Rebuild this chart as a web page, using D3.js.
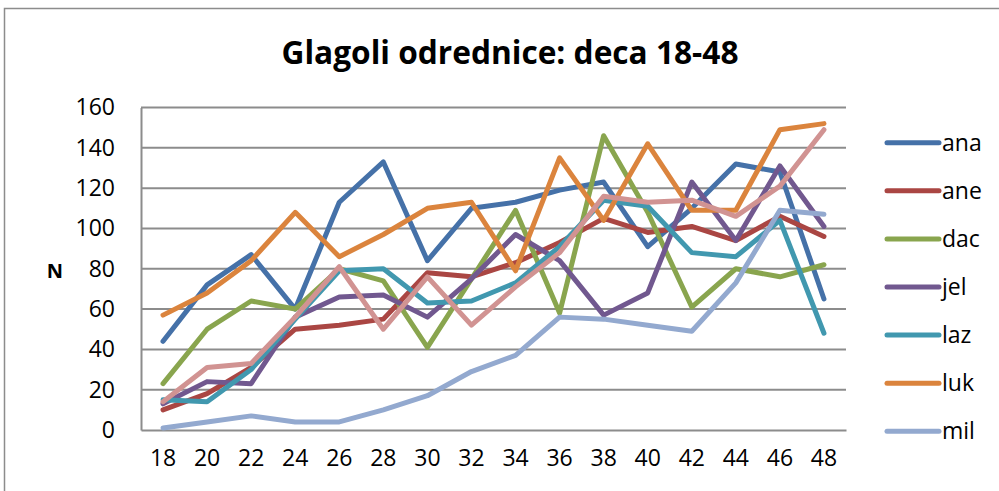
<!DOCTYPE html>
<html>
<head>
<meta charset="UTF-8">
<title>Glagoli odrednice</title>
<script src="https://cdn.jsdelivr.net/npm/d3@7"></script>
<style>
    body { margin: 0; background: #fff; }
    svg { display: block; font-family: "Open Sans", "Liberation Sans", sans-serif; }
</style>
</head>
<body>
<svg id="chart" width="999" height="491"></svg>
<script>
    // categories (age) and one array per speaker
    var ages = ["18","20","22","24","26","28","30","32","34","36","38","40","42","44","46","48"];
    var yTicks = [0, 20, 40, 60, 80, 100, 120, 140, 160];

    var ana = [44, 72, 87, 60, 113, 133, 84, 110, 113, 119, 123, 91, 110, 132, 128, 65];
    var ane = [10, 18, 31, 50, 52, 55, 78, 76, 83, 93, 105, 98, 101, 94, 106, 96];
    var dac = [23, 50, 64, 60, 80, 74, 41, 75, 109, 58, 146, 108, 61, 80, 76, 82];
    var jel = [13, 24, 23, 56, 66, 67, 56, 75, 97, 84, 57, 68, 123, 94, 131, 101];
    var laz = [15, 14, 30, 55, 79, 80, 63, 64, 73, 91, 114, 111, 88, 86, 104, 48];
    var luk = [57, 68, 84, 108, 86, 97, 110, 113, 79, 135, 104, 142, 109, 109, 149, 152];
    var mil = [1, 4, 7, 4, 4, 10, 17, 29, 37, 56, 55, 52, 49, 73, 109, 107];
    // 8th series is drawn but its legend entry does not fit in the chart
    var s8 = [14, 31, 33, 56, 81, 50, 76, 52, 71, 88, 116, 113, 114, 106, 121, 149];

    var series = [
        {name: "ana", values: ana, color: "#4571a8", legend: true},
        {name: "ane", values: ane, color: "#aa4643", legend: true},
        {name: "dac", values: dac, color: "#89a54e", legend: true},
        {name: "jel", values: jel, color: "#71588f", legend: true},
        {name: "laz", values: laz, color: "#4198af", legend: true},
        {name: "luk", values: luk, color: "#db843d", legend: true},
        {name: "mil", values: mil, color: "#93a9cf", legend: true},
        {name: "", values: s8, color: "#d19392", legend: false}
    ];

    var svg = d3.select("#chart");
    var plotL = 141, plotR = 846, plotT = 107.5, plotB = 430;

    // outer frame
    svg.append("rect")
        .attr("x", 4.5).attr("y", 8.5)
        .attr("width", 1100).attr("height", 600)
        .attr("fill", "none").attr("stroke", "#8c8c8c").attr("stroke-width", 1.5);

    svg.append("text")
        .attr("x", 510).attr("y", 64)
        .attr("text-anchor", "middle")
        .attr("font-weight", "bold").attr("font-size", 32)
        .attr("textLength", 457).attr("lengthAdjust", "spacingAndGlyphs")
        .text("Glagoli odrednice: deca 18-48");

    var x = d3.scaleBand().domain(ages).range([plotL, plotR]);
    var y = d3.scaleLinear().domain([0, 160]).range([plotB, plotT]);

    // gridlines
    svg.append("g").selectAll("line")
        .data(yTicks.filter(function (d) { return d > 0; }))
        .enter().append("line")
        .attr("x1", plotL).attr("x2", plotR)
        .attr("y1", function (d) { return y(d); })
        .attr("y2", function (d) { return y(d); })
        .attr("stroke", "#8c8c8c").attr("stroke-width", 2);

    // y axis
    var yAxis = svg.append("g")
        .attr("transform", "translate(" + plotL + ",0)")
        .call(d3.axisLeft(y).tickValues(yTicks).tickSize(0).tickPadding(26));
    yAxis.select(".domain").attr("stroke", "#8c8c8c").attr("stroke-width", 2);
    yAxis.selectAll("text").attr("font-size", 23).attr("fill", "#000")
        .attr("font-family", "'Open Sans', sans-serif");

    // x axis
    var xAxis = svg.append("g")
        .attr("transform", "translate(0," + plotB + ")")
        .call(d3.axisBottom(x).tickSize(0).tickPadding(20));
    xAxis.select(".domain").attr("stroke", "#8c8c8c").attr("stroke-width", 2);
    xAxis.selectAll("text").attr("font-size", 23).attr("fill", "#000")
        .attr("font-family", "'Open Sans', sans-serif");

    svg.append("text")
        .attr("x", 55).attr("y", 271).attr("dy", "0.35em")
        .attr("text-anchor", "middle")
        .attr("font-weight", "bold").attr("font-size", 20)
        .text("N");

    var line = d3.line()
        .x(function (d, i) { return x(ages[i]) + x.bandwidth() / 2; })
        .y(function (d) { return y(d); });

    svg.append("g").selectAll("path")
        .data(series)
        .enter().append("path")
        .attr("d", function (s) { return line(s.values); })
        .attr("fill", "none")
        .attr("stroke", function (s) { return s.color; })
        .attr("stroke-width", 5)
        .attr("stroke-linejoin", "round")
        .attr("stroke-linecap", "round");

    // legend
    var leg = svg.append("g").selectAll("g")
        .data(series.filter(function (s) { return s.legend; }))
        .enter().append("g")
        .attr("transform", function (s, i) { return "translate(0," + (142.7 + i * 48.1) + ")"; });
    leg.append("line")
        .attr("x1", 887).attr("x2", 939)
        .attr("stroke", function (s) { return s.color; })
        .attr("stroke-width", 5).attr("stroke-linecap", "round");
    leg.append("text")
        .attr("x", 942).attr("dy", "0.35em")
        .attr("font-size", 23)
        .text(function (s) { return s.name; });
</script>
</body>
</html>
